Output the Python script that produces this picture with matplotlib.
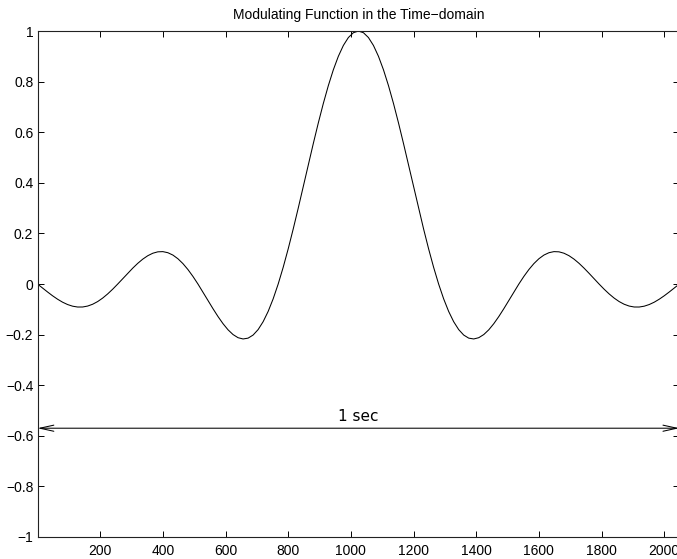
import matplotlib
matplotlib.use("Agg")
import matplotlib.pyplot as plt
from matplotlib.ticker import FuncFormatter

# sample positions and values
sample_x = list(range(0, 2049, 16))
sample_y = [
    0.0000, -0.0158, -0.0314, -0.0464, -0.0600, -0.0718, -0.0811, -0.0876,
    -0.0909, -0.0908, -0.0871, -0.0799, -0.0693, -0.0555, -0.0390, -0.0203,
    0.0000, 0.0211, 0.0424, 0.0629, 0.0819, 0.0985, 0.1120, 0.1218,
    0.1273, 0.1281, 0.1238, 0.1145, 0.1000, 0.0808, 0.0573, 0.0301,
    0.0000, -0.0321, -0.0650, -0.0976, -0.1286, -0.1568, -0.1810, -0.1998,
    -0.2122, -0.2172, -0.2139, -0.2017, -0.1801, -0.1489, -0.1083, -0.0585,
    0.0000, 0.0662, 0.1392, 0.2177, 0.3001, 0.3850, 0.4705, 0.5550,
    0.6366, 0.7136, 0.7842, 0.8469, 0.9003, 0.9432, 0.9745, 0.9936,
    1.0000,
    0.9936, 0.9745, 0.9432, 0.9003, 0.8469, 0.7842, 0.7136, 0.6366,
    0.5550, 0.4705, 0.3850, 0.3001, 0.2177, 0.1392, 0.0662, 0.0000,
    -0.0585, -0.1083, -0.1489, -0.1801, -0.2017, -0.2139, -0.2172, -0.2122,
    -0.1998, -0.1810, -0.1568, -0.1286, -0.0976, -0.0650, -0.0321, 0.0000,
    0.0301, 0.0573, 0.0808, 0.1000, 0.1145, 0.1238, 0.1281, 0.1273,
    0.1218, 0.1120, 0.0985, 0.0819, 0.0629, 0.0424, 0.0211, 0.0000,
    -0.0203, -0.0390, -0.0555, -0.0693, -0.0799, -0.0871, -0.0908, -0.0909,
    -0.0876, -0.0811, -0.0718, -0.0600, -0.0464, -0.0314, -0.0158, 0.0000,
]
x_ticks = [200, 400, 600, 800, 1000, 1200, 1400, 1600, 1800, 2000]
y_ticks = [-1, -0.8, -0.6, -0.4, -0.2, 0, 0.2, 0.4, 0.6, 0.8, 1]
span_start, span_end, span_level = 0, 2048, -0.57
span_label = "1 sec"
title = "Modulating Function in the Time\u2212domain"

plt.rcParams["font.family"] = ["Liberation Sans", "DejaVu Sans"]
plt.rcParams["font.size"] = 10

fig = plt.figure(figsize=(6.77, 5.59), dpi=100)
ax = fig.add_axes([0.0554, 0.0394, 0.948, 0.905])

ax.plot(sample_x, sample_y, color="black", lw=0.75)

ax.annotate("", xy=(span_start, span_level), xytext=(span_end, span_level),
            arrowprops=dict(arrowstyle="<->,head_length=1.0,head_width=0.22",
                            color="black", lw=0.75, shrinkA=0, shrinkB=0))
ax.text((span_start + span_end) / 2, span_level + 0.015, span_label,
        ha="center", va="bottom", fontsize=11, family="DejaVu Sans")

ax.set_xlim(0, 2048)
ax.set_ylim(-1, 1)
ax.set_xticks(x_ticks)
ax.set_yticks(y_ticks)
ax.yaxis.set_major_formatter(FuncFormatter(lambda v, p: f"{v:g}".replace("-", "\u2212")))
ax.tick_params(direction="in", length=4.3, width=0.7, top=True, right=True,
               labelsize=10, pad=3)
ax.tick_params(axis="x", pad=5)
for s in ax.spines.values():
    s.set_linewidth(0.8)
    s.set_color("#222222")

ax.set_title(title, fontsize=10, pad=9)

fig.savefig("out.png", dpi=100)
